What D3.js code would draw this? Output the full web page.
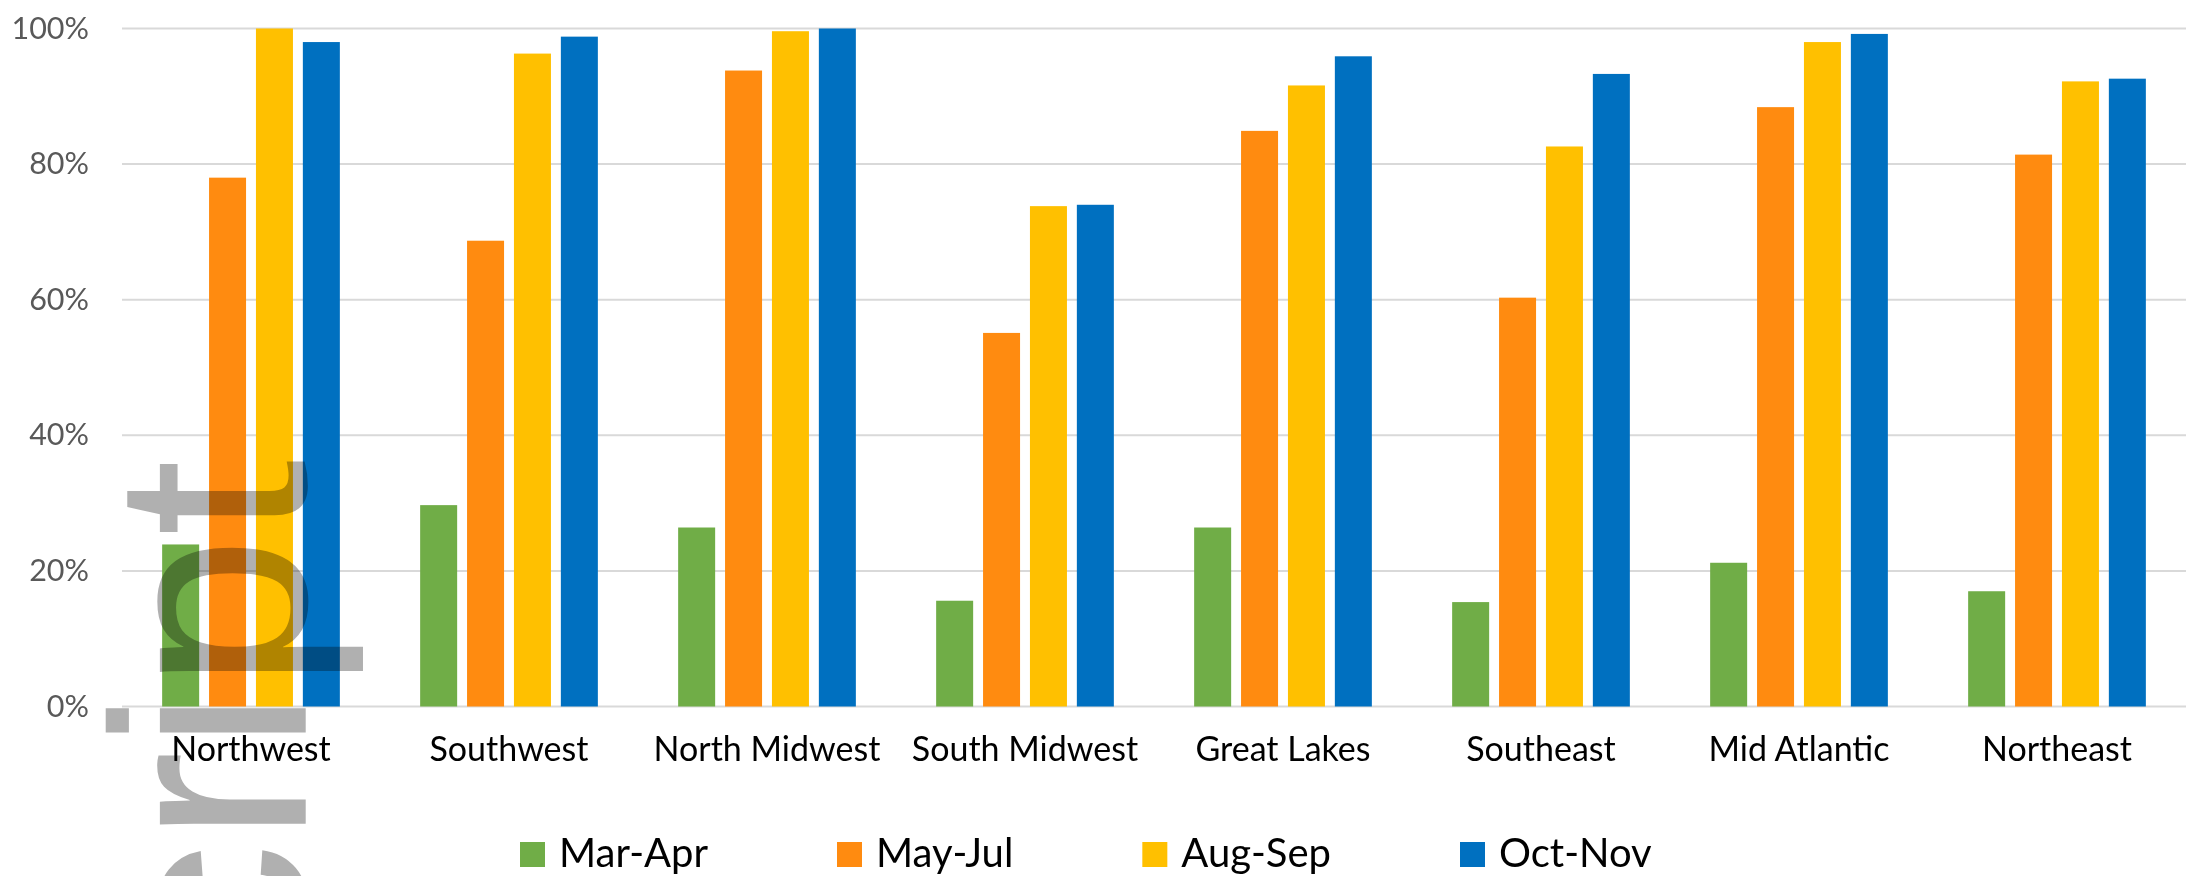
<!DOCTYPE html>
<html>
<head>
<meta charset="utf-8">
<script src="https://cdn.jsdelivr.net/npm/d3@7"></script>
<style>
  body { margin: 0; background: #fff; }
  svg { display: block; }
  .tick-label { font-family: Lato, "Noto Sans", sans-serif; fill: #595959; }
  .cat-label, .legend-label { font-family: Lato, "Noto Sans", sans-serif; fill: #000; }
</style>
</head>
<body>
<div id="chart"></div>
<script>
const regions = ['Northwest', 'Southwest', 'North Midwest', 'South Midwest', 'Great Lakes', 'Southeast', 'Mid Atlantic', 'Northeast']
const seasons = ['Mar-Apr', 'May-Jul', 'Aug-Sep', 'Oct-Nov']
const colors = ['#70AD47', '#FF8B10', '#FFC000', '#0070C0']

const marApr = [0.239, 0.297, 0.264, 0.156, 0.264, 0.154, 0.212, 0.170]
const mayJul = [0.780, 0.687, 0.938, 0.551, 0.849, 0.603, 0.884, 0.814]
const augSep = [1.000, 0.963, 0.996, 0.738, 0.916, 0.826, 0.980, 0.922]
const octNov = [0.980, 0.988, 1.000, 0.740, 0.959, 0.933, 0.992, 0.926]

const yTicks = [0, 0.2, 0.4, 0.6, 0.8, 1.0]

const width = 2201, height = 876
const margin = { top: 28.5, right: 15, bottom: 169.5, left: 122 }

const seriesValues = [marApr, mayJul, augSep, octNov]
const rows = regions.map((r, i) => ({
  region: r,
  values: seasons.map((s, j) => ({ season: s, value: seriesValues[j][i], color: colors[j] }))
}))

const svg = d3.select('#chart')
  .append('svg')
  .attr('width', width)
  .attr('height', height)

const x0 = d3.scaleBand()
  .domain(regions)
  .range([margin.left, width - margin.right])

const x1 = d3.scaleBand()
  .domain(seasons)
  .range([0, x0.bandwidth()])
  .paddingInner(0.211)
  .paddingOuter(0.856)

const y = d3.scaleLinear()
  .domain([0, 1])
  .range([height - margin.bottom, margin.top])

// gridlines
svg.append('g')
  .selectAll('line')
  .data(yTicks)
  .join('line')
  .attr('x1', margin.left)
  .attr('x2', width - margin.right)
  .attr('y1', d => y(d))
  .attr('y2', d => y(d))
  .attr('stroke', '#d9d9d9')
  .attr('stroke-width', 2)

// y tick labels
svg.append('g')
  .selectAll('text')
  .data(yTicks)
  .join('text')
  .attr('class', 'tick-label')
  .attr('x', 89)
  .attr('y', d => y(d) + 10)
  .attr('text-anchor', 'end')
  .attr('font-size', 30.5)
  .text(d3.format('.0%'))

// bars
svg.append('g')
  .selectAll('g')
  .data(rows)
  .join('g')
  .attr('transform', d => `translate(${x0(d.region)},0)`)
  .selectAll('rect')
  .data(d => d.values)
  .join('rect')
  .attr('x', d => x1(d.season))
  .attr('width', x1.bandwidth())
  .attr('y', d => y(d.value))
  .attr('height', d => y(0) - y(d.value))
  .attr('fill', d => d.color)

// category labels
svg.append('g')
  .selectAll('text')
  .data(regions)
  .join('text')
  .attr('class', 'cat-label')
  .attr('x', d => x0(d) + x0.bandwidth() / 2)
  .attr('y', 761)
  .attr('text-anchor', 'middle')
  .attr('font-size', 34)
  .text(d => d)

// legend
const legend = svg.append('g')
let lx = 520
seasons.forEach((s, i) => {
  const item = legend.append('g').attr('transform', `translate(${lx},0)`)
  item.append('rect')
    .attr('x', 0)
    .attr('y', 842)
    .attr('width', 25)
    .attr('height', 25)
    .attr('fill', colors[i])
  const t = item.append('text')
    .attr('class', 'legend-label')
    .attr('x', 39)
    .attr('y', 866.5)
    .attr('font-size', 40)
    .text(s)
  lx += 39 + t.node().getComputedTextLength() + 129
})

// rotated watermark
svg.append('text')
  .attr('transform', 'translate(305.7,1165) rotate(-90)')
  .attr('font-family', '"Liberation Sans", Arial, sans-serif')
  .attr('font-size', 276)
  .attr('fill', '#b0b0b0')
  .style('mix-blend-mode', 'multiply')
  .text('Script')
</script>
</body>
</html>
